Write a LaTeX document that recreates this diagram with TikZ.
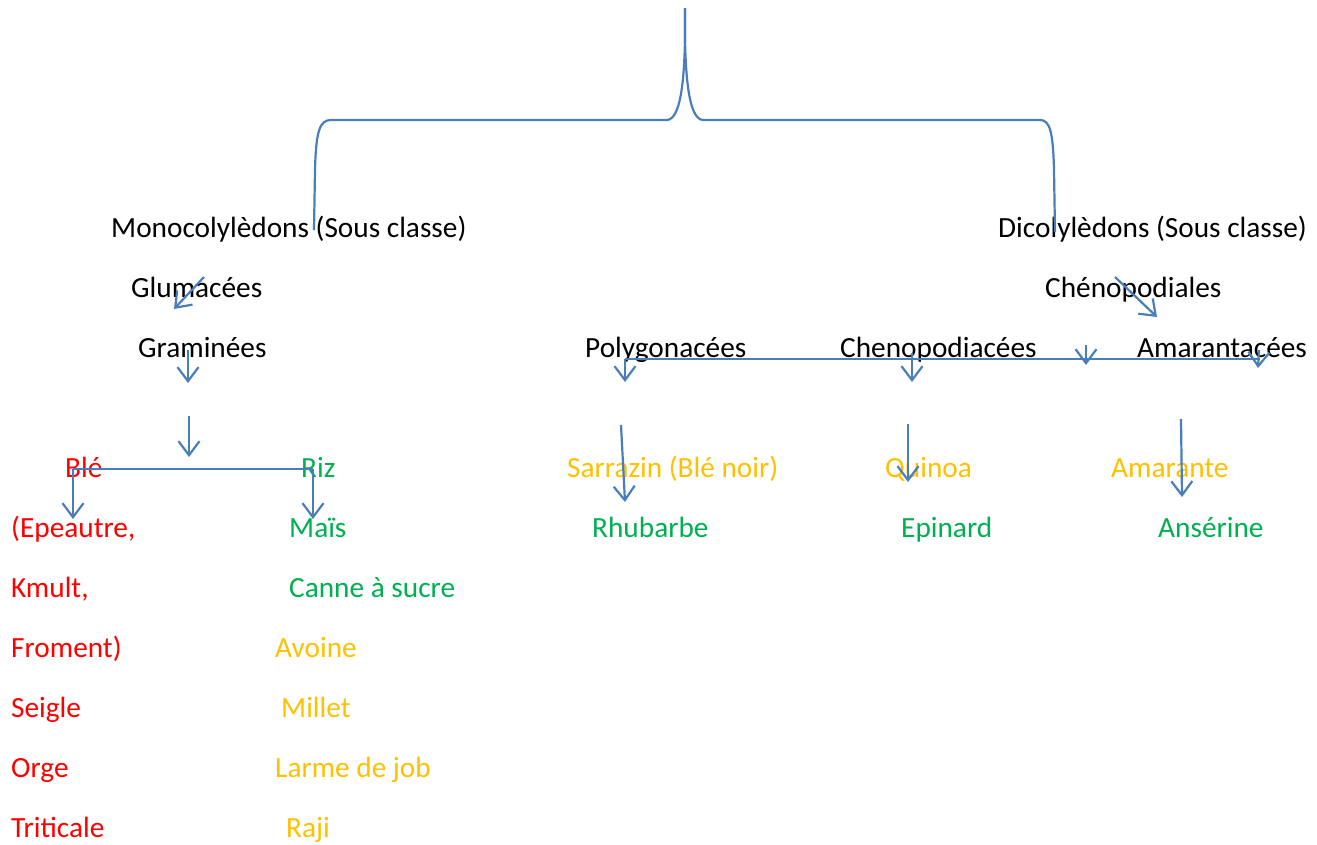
\documentclass[tikz,border=0pt]{standalone}
\usepackage{fontspec}
\setmainfont{Carlito}
\usetikzlibrary{arrows.meta}
\definecolor{linkblue}{HTML}{4A7EBB}
\definecolor{cred}{HTML}{FF0000}
\definecolor{cgreen}{HTML}{00B050}
\definecolor{cgold}{HTML}{FFC000}
\tikzset{
  lbl/.style={anchor=base west,inner sep=0pt,font=\fontsize{29.3}{29.3}\selectfont},
  blk/.style={lbl,text=black},
  rd/.style={lbl,text=cred},
  gr/.style={lbl,text=cgreen},
  gd/.style={lbl,text=cgold},
  link/.style={draw=linkblue,line width=2.2pt},
  arr/.style={link,-{Straight Barb[length=14pt,width=21pt,line width=2.2pt]}},
}
\begin{document}
\begin{tikzpicture}[x=1pt,y=-1pt]
\useasboundingbox (0,0) rectangle (1317,844);

% labels
\node[blk] (mono)  at (111,237) {Monocolylèdons (Sous classe)};
\node[blk] (dico)  at (998,237) {Dicolylèdons (Sous classe)};
\node[blk] (glum)  at (131,297) {Glumacées};
\node[blk] (cheno) at (1045,297) {Chénopodiales};
\node[blk] (gram)  at (138,357) {Graminées};
\node[blk] (poly)  at (585,357) {Polygonacées};
\node[blk] (chpd)  at (840,357) {Chenopodiacées};
\node[blk] (amar)  at (1137,357) {Amarantacées};

\node[rd] (ble)   at (65,477) {Blé};
\node[gr] (riz)   at (301,477) {Riz};
\node[gd] (sarr)  at (567,477) {Sarrazin (Blé noir)};
\node[gd] (quin)  at (885,477) {Quinoa};
\node[gd] (amte)  at (1111,477) {Amarante};

\node[rd] (epea)  at (11,537) {(Epeautre,};
\node[gr] (mais)  at (289,537) {Maïs};
\node[gr] (rhub)  at (592,537) {Rhubarbe};
\node[gr] (epin)  at (901,537) {Epinard};
\node[gr] (anse)  at (1158,537) {Ansérine};

\node[rd] (kmul)  at (11,597) {Kmult,};
\node[gr] (cann)  at (289,597) {Canne à sucre};
\node[rd] (from)  at (11,657) {Froment)};
\node[gd] (avoi)  at (275,657) {Avoine};
\node[rd] (seig)  at (11,717) {Seigle};
\node[gd] (mill)  at (281,717) {Millet};
\node[rd] (orge)  at (11,777) {Orge};
\node[gd] (larm)  at (275,777) {Larme de job};
\node[rd] (trit)  at (11,837) {Triticale};
\node[gd] (raji)  at (286,837) {Raji};

% anchor points of the connectors
\coordinate (top)  at (685,8);
\coordinate (bl)   at (314,230);
\coordinate (br)   at (1055,232);
\coordinate (g1)   at (204,277);
\coordinate (g2)   at (174,309);
\coordinate (m1)   at (188,350);
\coordinate (m2)   at (188,383);
\coordinate (n1)   at (189,416);
\coordinate (n2)   at (189,457);
\coordinate (bl1)  at (73,469);
\coordinate (bl2)  at (73,519);
\coordinate (rz1)  at (313,469);
\coordinate (rz2)  at (313,519);
\coordinate (c1)   at (1115,277);
\coordinate (c2)   at (1157,317);
\coordinate (h1)   at (625,359);
\coordinate (h2)   at (1260,359);
\coordinate (p2)   at (625,382);
\coordinate (q1)   at (912,353);
\coordinate (q2)   at (912,382);
\coordinate (r1)   at (1086,345);
\coordinate (r2)   at (1086,365);
\coordinate (s1)   at (1259,350);
\coordinate (s2)   at (1258,368);
\coordinate (t1)   at (621,425);
\coordinate (t2)   at (625,502);
\coordinate (u1)   at (908,424);
\coordinate (u2)   at (908,482);
\coordinate (v1)   at (1181,419);
\coordinate (v2)   at (1182,497);

% top brace
\draw[link] (bl) -- (315,170) .. controls (316,130) and (320,120) .. (331,120)
  -- (667,120) .. controls (680,119) and (684,85) .. (685,40) -- (top);
\draw[link] (top) -- (685,40) .. controls (686,85) and (690,119) .. (703,120)
  -- (1040,120) .. controls (1050,120) and (1053,132) .. (1054,170) -- (br);

% left branch
\draw[arr] (g1) -- (g2);
\draw[arr] (m1) -- (m2);
\draw[arr] (n1) -- (n2);
\draw[link] (bl1) -- (rz1);
\draw[arr] (bl1) -- (bl2);
\draw[arr] (rz1) -- (rz2);

% right branch
\draw[arr] (c1) -- (c2);
\draw[link] (h1) -- (h2);
\draw[arr] (h1) -- (p2);
\draw[arr] (q1) -- (q2);
\draw[arr] (r1) -- (r2);
\draw[arr] (s1) -- (s2);
\draw[arr] (t1) -- (t2);
\draw[arr] (u1) -- (u2);
\draw[arr] (v1) -- (v2);
\end{tikzpicture}
\end{document}
